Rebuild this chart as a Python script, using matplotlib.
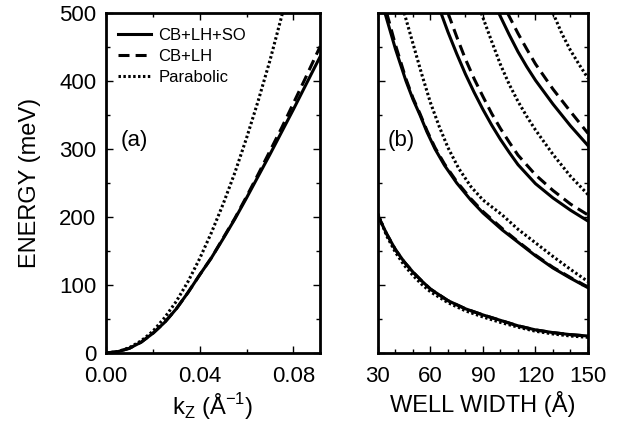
import matplotlib
matplotlib.use("Agg")
import matplotlib.pyplot as plt
from matplotlib.ticker import MultipleLocator

plt.rcParams['font.family'] = ['Liberation Sans', 'DejaVu Sans']

# panel (a): dispersion E(kz)
k_full = [0.0, 0.005, 0.01, 0.015, 0.02, 0.025, 0.03, 0.035, 0.04, 0.045,
          0.05, 0.055, 0.06, 0.065, 0.07, 0.075, 0.08, 0.085, 0.09, 0.0915]
e_cb_lh_so = [0, 2, 7, 16, 29, 45, 65, 89, 115, 140,
              168, 197, 228, 260, 292, 325, 358, 392, 426, 436]
e_cb_lh = [0, 2, 7, 16, 29, 45, 65, 89, 115, 140,
           169, 198, 230, 263, 297, 331, 367, 403, 440, 451]
k_par = [0.0, 0.005, 0.01, 0.015, 0.02, 0.025, 0.03, 0.035, 0.04, 0.045,
         0.05, 0.055, 0.06, 0.065, 0.07, 0.075, 0.0755]
e_par = [0, 2, 8, 18, 32, 52, 76, 105, 139, 177,
         219, 265, 316, 371, 430, 495, 502]

# panel (b): subband energies vs well width
w1 = [30, 35, 40, 45, 50, 55, 60, 70, 80, 90, 100, 110, 120, 130, 140, 150]
n1_solid = [202, 175, 152, 134, 119, 106, 94, 77, 65, 56, 48, 40, 34, 30, 27, 25]
n1_dash = [202, 175, 152, 134, 119, 106, 94, 77, 65, 56, 48, 40, 34, 30, 27, 25]
n1_dot = [205, 172, 148, 129, 114, 101, 90, 74, 62, 53, 45, 38, 32, 28, 25, 23]

w2s = [34, 40, 46, 50, 54, 58, 62.6, 68, 75, 83, 90, 101, 110, 120, 130, 140, 150]
n2_solid = [500, 447, 400, 373, 350, 325, 300, 276, 250, 225, 206, 181, 163, 143, 125, 110, 96]
w2d = [35, 40, 46, 50, 54, 58, 62.6, 68, 75, 83, 90, 101, 110, 120, 130, 140, 150]
n2_dash = [500, 453, 403, 375, 352, 327, 302, 278, 252, 227, 208, 183, 164, 144, 126, 111, 97]
w2p = [45, 50, 55, 60, 65, 70, 76, 83, 90, 101, 110, 120, 130, 140, 150]
n2_dot = [500, 455, 410, 368, 333, 302, 272, 245, 225, 203, 182, 162, 142, 123, 105]

w3s = [66, 70, 75, 80, 85, 90, 95, 100, 105, 110, 120, 130, 140, 150]
n3_solid = [500, 472, 440, 410, 383, 358, 335, 314, 295, 277, 249, 228, 210, 194]
w3d = [70, 75, 80, 85, 90, 95, 100, 105, 110, 120, 130, 140, 150]
n3_dash = [500, 465, 432, 403, 377, 352, 330, 310, 291, 262, 239, 219, 203]
w3p = [89, 95, 100, 105, 110, 115, 120, 130, 140, 150]
n3_dot = [500, 458, 424, 395, 370, 348, 328, 292, 260, 233]

w4s = [99, 105, 110, 115, 120, 130, 140, 150]
n4_solid = [500, 468, 443, 421, 401, 366, 334, 305]
w4d = [104, 110, 115, 120, 130, 140, 150]
n4_dash = [500, 470, 447, 425, 388, 355, 323]
w4p = [130, 135, 140, 145, 150]
n4_dot = [500, 470, 445, 424, 404]

LW = 2.2
DASH = (0, (3.6, 2.0))
DOT = (0, (0.8, 0.8))

fig = plt.figure(figsize=(6.17, 4.21), dpi=100)
ax1 = fig.add_axes([0.172, 0.1615, 0.347, 0.8076])
ax2 = fig.add_axes([0.6126, 0.1615, 0.3404, 0.8076])

ax1.plot(k_full, e_cb_lh_so, color='black', lw=LW, ls='-', label='CB+LH+SO')
ax1.plot(k_full, e_cb_lh, color='black', lw=LW, ls=DASH, label='CB+LH')
ax1.plot(k_par, e_par, color='black', lw=LW, ls=DOT, label='Parabolic')

for w, e in [(w1, n1_solid), (w2s, n2_solid), (w3s, n3_solid), (w4s, n4_solid)]:
    ax2.plot(w, e, color='black', lw=LW, ls='-')
for w, e in [(w1, n1_dash), (w2d, n2_dash), (w3d, n3_dash), (w4d, n4_dash)]:
    ax2.plot(w, e, color='black', lw=LW, ls=DASH)
for w, e in [(w1, n1_dot), (w2p, n2_dot), (w3p, n3_dot), (w4p, n4_dot)]:
    ax2.plot(w, e, color='black', lw=LW, ls=DOT)

ax1.set_xlim(0, 0.0915)
ax1.set_ylim(0, 500)
ax2.set_xlim(30, 150)
ax2.set_ylim(0, 500)

ax1.xaxis.set_minor_locator(MultipleLocator(0.02))
ax1.yaxis.set_major_locator(MultipleLocator(100))
ax1.yaxis.set_minor_locator(MultipleLocator(50))
ax1.set_xticks([0.0, 0.04, 0.08])
ax1.set_xticklabels(['0.00', '0.04', '0.08'])

ax2.xaxis.set_major_locator(MultipleLocator(30))
ax2.xaxis.set_minor_locator(MultipleLocator(10))
ax2.yaxis.set_major_locator(MultipleLocator(100))
ax2.yaxis.set_minor_locator(MultipleLocator(50))

for ax in (ax1, ax2):
    for s in ax.spines.values():
        s.set_linewidth(2.0)
    ax.tick_params(which='both', direction='in', top=True, right=True,
                   width=1.0, labelsize=16)
    ax.tick_params(which='major', length=5)
    ax.tick_params(which='minor', length=3)
    ax.tick_params(axis='x', pad=9)
    ax.tick_params(axis='y', pad=7)
ax2.tick_params(labelleft=False)

ax1.set_ylabel('ENERGY (meV)', fontsize=17, labelpad=13)
ax1.set_xlabel(r'k$_\mathregular{Z}$ (Å$^\mathregular{-1}$)', fontsize=17, labelpad=3)
ax2.set_xlabel('WELL WIDTH (Å)', fontsize=17, labelpad=3)

ax1.text(0.07, 0.626, '(a)', transform=ax1.transAxes, fontsize=16, va='center')
ax2.text(0.045, 0.626, '(b)', transform=ax2.transAxes, fontsize=16, va='center')

ax1.legend(loc='upper left', bbox_to_anchor=(0.0, 0.99), frameon=False,
           fontsize=12, handlelength=2.0, handletextpad=0.45, labelspacing=0.35,
           borderaxespad=0.3)

fig.savefig('out.png', dpi=100)
